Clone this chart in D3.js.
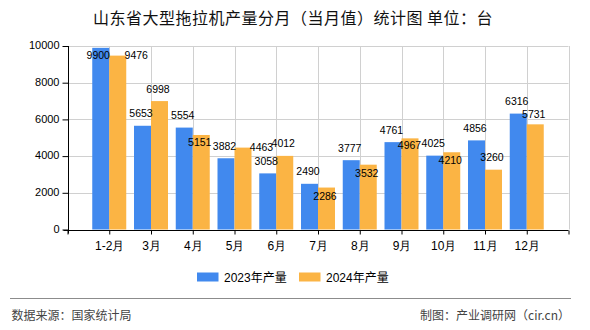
<!DOCTYPE html>
<html><head><meta charset="utf-8">
<script src="https://cdn.jsdelivr.net/npm/d3@7"></script>
<style>
html,body{margin:0;padding:0;background:#fff;}
svg{display:block;font-family:"Liberation Sans","Noto Sans CJK SC",sans-serif;}
</style></head>
<body><svg id="c" width="590" height="330"></svg>
<script>
const categories = ["1-2月","3月","4月","5月","6月","7月","8月","9月","10月","11月","12月"];
const values2023 = [9900,5653,5554,3882,3058,2490,3777,4761,4025,4856,6316];
const values2024 = [9476,6998,5151,4463,4012,2286,3532,4967,4210,3260,5731];
const seriesNames = ["2023年产量","2024年产量"];
const yTicks = [0,2000,4000,6000,8000,10000];
// label nudges (dx, dy) from the default spot above each bar
const nudge2023 = [[-1,20],[0,0],[0,0],[0,0],[0,0],[0,0],[0,0],[0,0],[0,0],[0,0],[0,0]];
const nudge2024 = [[20,12],[0,0],[0,20],[20,11.5],[0,0],[0,21],[0,20.5],[1,19.5],[0,20],[0,0],[0,2.5]];

const colors = ["#4189EE","#FBB444"];
const svg = d3.select("#c");
const pLeft = 67.5, pRight = 568.5, pTop = 46, pBottom = 229.5;
const x = d3.scaleLinear().domain([0, categories.length + 1]).range([pLeft, pRight]);
const y = d3.scaleLinear().domain([0, 10000]).range([pBottom, pTop]);
const bw = 17;

// title
svg.append("text").attr("x", 293).attr("y", 24).attr("text-anchor","middle")
  .attr("font-size", 16).attr("fill","#111").attr("letter-spacing", 0.5)
  .attr("font-family", "'Noto Sans CJK SC',sans-serif")
  .text("山东省大型拖拉机产量分月（当月值）统计图 单位：台");

// grid
const g = svg.append("g");
g.selectAll("line.h").data(yTicks.filter(d=>d>0)).enter().append("line")
  .attr("x1", pLeft).attr("x2", pRight).attr("y1", d=>Math.round(y(d))+0.5).attr("y2", d=>Math.round(y(d))+0.5)
  .attr("stroke","#d0d0d0").attr("stroke-width",1);
g.selectAll("line.v").data(d3.range(1, categories.length + 2)).enter().append("line")
  .attr("x1", d=>Math.round(x(d))+0.5).attr("x2", d=>Math.round(x(d))+0.5).attr("y1", pTop).attr("y2", pBottom)
  .attr("stroke","#d0d0d0").attr("stroke-width",1);

// bars
const series = [values2023, values2024];
series.forEach((vals, s) => {
  svg.append("g").selectAll("rect").data(vals).enter().append("rect")
    .attr("x", (d,i) => x(i+1) - bw + s*bw)
    .attr("width", bw)
    .attr("y", d => y(d))
    .attr("height", d => y(0) - y(d))
    .attr("fill", colors[s]);
});

// axes
const yAxis = d3.axisLeft(y).tickValues(yTicks).tickSize(6).tickPadding(3).tickFormat(d3.format("d"));
const ya = svg.append("g").attr("transform", `translate(${Math.round(pLeft)+0.5},0)`).call(yAxis);
ya.select(".domain").attr("d", `M0,${pTop}V${pBottom+4}`).attr("stroke","#000");
ya.selectAll(".tick line").attr("stroke","#000");
ya.selectAll(".tick text").attr("font-size", 11).attr("fill","#000").attr("dy","0.25em");

const xAxis = d3.axisBottom(x).tickValues(d3.range(0, categories.length + 2)).tickSize(4).tickPadding(5)
  .tickFormat(d => (d>=1 && d<=categories.length) ? categories[d-1] : "");
const xa = svg.append("g").attr("transform", `translate(0,${Math.round(pBottom)+0.5})`).call(xAxis);
xa.select(".domain").attr("d", `M${pLeft-4},0H${pRight}`).attr("stroke","#000");
xa.selectAll(".tick line").attr("stroke","#000");
xa.selectAll(".tick text").attr("font-size", 12).attr("fill","#000").attr("dy","0.9em");

// value labels
const nudges = [nudge2023, nudge2024];
series.forEach((vals, s) => {
  svg.append("g").selectAll("text").data(vals).enter().append("text")
    .attr("x", (d,i) => x(i+1) - bw/2 + s*bw - 1.5 + nudges[s][i][0])
    .attr("y", (d,i) => y(d) - 8.5 + nudges[s][i][1])
    .attr("text-anchor","middle").attr("font-size", 10.5).attr("fill","#000")
    .text(d => d);
});

// legend
const lg = svg.append("g");
const legendX = [197, 299];
seriesNames.forEach((n, s) => {
  lg.append("rect").attr("x", legendX[s]).attr("y", 272.5).attr("width", 21.5).attr("height", 9).attr("fill", colors[s]);
  lg.append("text").attr("x", legendX[s] + 27).attr("y", 281.5).attr("font-size", 12).attr("fill","#000").text(n);
});

// separator & footer
svg.append("line").attr("x1", 10).attr("x2", 571).attr("y1", 298.5).attr("y2", 298.5).attr("stroke","#8c8c8c").attr("stroke-width",1);
svg.append("text").attr("x", 11.5).attr("y", 320).attr("font-size", 12).attr("fill","#444")
  .attr("font-family","'Noto Sans CJK SC',sans-serif").text("数据来源：国家统计局");
svg.append("text").attr("x", 570).attr("y", 320).attr("font-size", 12).attr("fill","#444").attr("text-anchor","end")
  .attr("font-family","'Noto Sans CJK SC',sans-serif").text("制图：产业调研网（cir.cn）");
</script></body></html>
